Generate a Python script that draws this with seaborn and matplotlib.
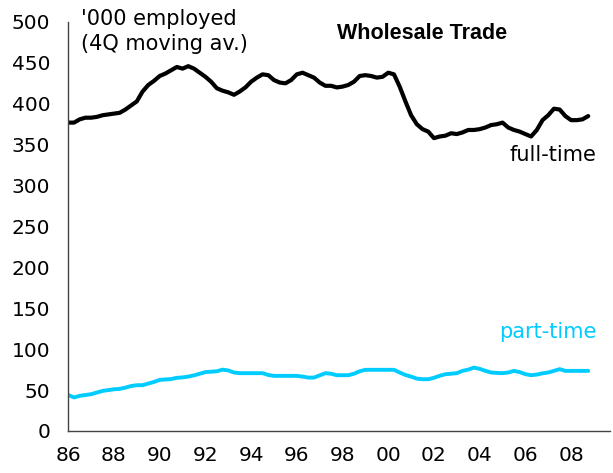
## Libraries
import numpy as np
import pandas as pd
import matplotlib
matplotlib.use("Agg")
import matplotlib.pyplot as plt
import seaborn as sns

## Data: quarterly, 1986Q1 - 2008Q4 ('000 employed, 4Q moving average)
quarters = np.arange(1986, 2009, 0.25)

full_time = [377, 377, 381, 383, 383, 384, 386, 387,
             388, 389, 393, 398, 403, 415, 423, 428,
             434, 437, 441, 445, 443, 446, 443, 438,
             433, 427, 419, 416, 414, 411, 415, 420,
             427, 432, 436, 435, 429, 426, 425, 429,
             436, 438, 435, 432, 426, 422, 422, 420,
             421, 423, 427, 434, 435, 434, 432, 433,
             438, 436, 421, 403, 386, 375, 369, 366,
             358, 360, 361, 364, 363, 365, 368, 368,
             369, 371, 374, 375, 377, 371, 368, 366,
             363, 360, 368, 380, 386, 394, 393, 385,
             380, 380, 381, 385]

part_time = [44, 41, 43, 44, 45, 47, 49, 50,
             51, 51.5, 53, 55, 56, 56, 58, 60,
             62.5, 63, 63.5, 65, 65.5, 66.5, 68, 70,
             72, 72.5, 73, 75, 74, 71.5, 70.7, 70.7,
             70.7, 70.7, 70.7, 68.5, 67.4, 67.4, 67.4, 67.4,
             67.4, 66.5, 65.3, 65.3, 68, 70.7, 70, 68.2,
             68.2, 68.2, 70, 73, 74.8, 74.8, 74.8, 74.8,
             74.8, 74.8, 71.5, 68.5, 66.5, 64, 63.3, 63.3,
             65, 67.5, 69.4, 70, 70.7, 73.5, 75, 77.5,
             76, 73.5, 71.5, 71, 70.7, 71.5, 73.5, 72,
             69.5, 68.2, 69, 70.5, 71.5, 73.5, 75.6, 73.5,
             73.5, 73.5, 73.5, 73.5]

tick_years = list(range(1986, 2009, 2))
tick_labels = ['86', '88', '90', '92', '94', '96', '98', '00', '02', '04', '06', '08']

## Plot
sns.set_style("white")
plt.rcParams['font.family'] = ['DejaVu Sans']
plt.rcParams['text.color'] = 'black'
plt.rcParams['xtick.color'] = 'black'
plt.rcParams['ytick.color'] = 'black'

fig = plt.figure(figsize=(6.13, 4.73), dpi=100)
ax = fig.add_axes([0.1114, 0.0888, 0.8836, 0.8647])

sns.lineplot(x=quarters, y=full_time, color='black', linewidth=3, ax=ax)
sns.lineplot(x=quarters, y=part_time, color='#00CCFF', linewidth=2.8, ax=ax)

ax.set_xlim(1986, 2009.7)
ax.set_ylim(0, 500)
ax.set_yticks(range(0, 501, 50))
ax.set_xticks(tick_years)
ax.set_xticklabels(tick_labels)
ax.tick_params(axis='both', labelsize=14.5, direction='out', length=6, width=1,
               color='#444444', pad=7)
ax.tick_params(axis='x', pad=5)

for side in ['top', 'right']:
    ax.spines[side].set_visible(False)
for side in ['left', 'bottom']:
    ax.spines[side].set_color('#444444')
    ax.spines[side].set_linewidth(1)

ax.text(1986.55, 516, "'000 employed\n(4Q moving av.)", fontsize=15,
        va='top', ha='left', linespacing=1.3)
ax.text(2001.5, 486, 'Wholesale Trade', fontsize=15.5, fontweight='bold',
        family='Liberation Sans', ha='center', va='center')
ax.text(2009.12, 337, 'full-time', fontsize=15, ha='right', va='center')
ax.text(2009.12, 121, 'part-time', fontsize=15, ha='right', va='center',
        color='#00CCFF')

plt.savefig('out.png', dpi=100)
